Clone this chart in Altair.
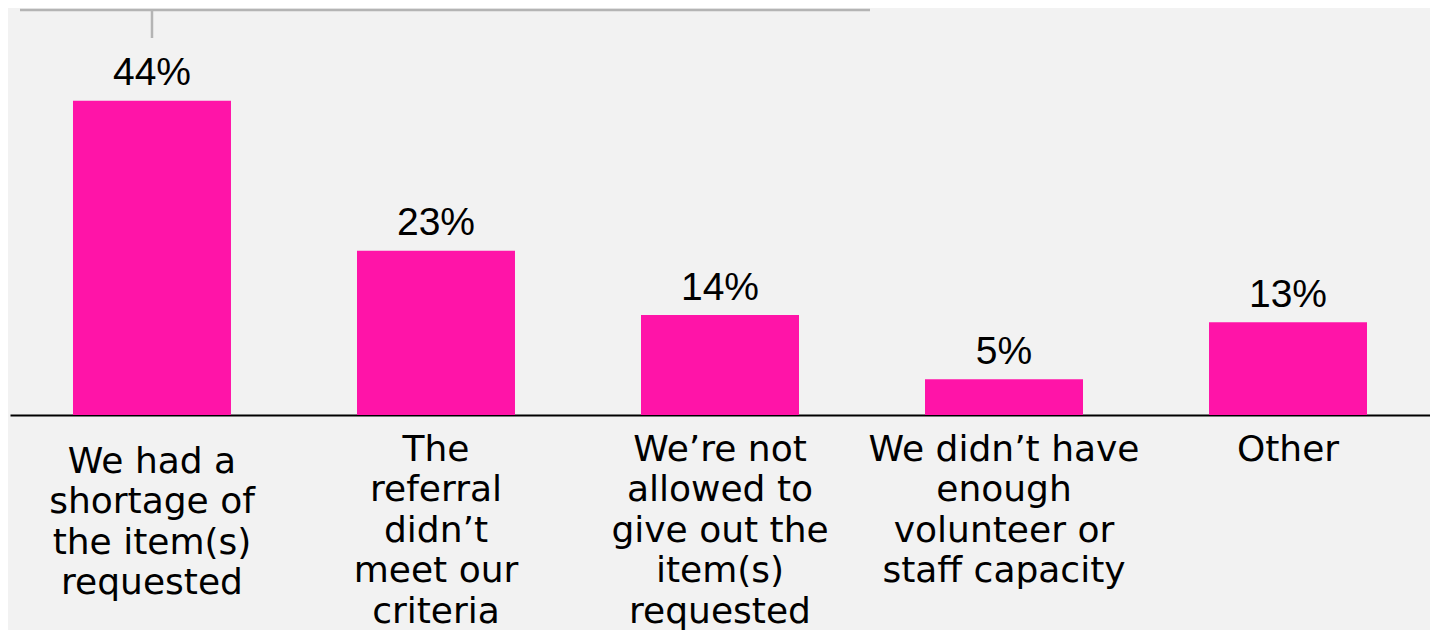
import altair as alt
import pandas as pd

categories = [
    "We had a|shortage of|the item(s)|requested",
    "The|referral|didn’t|meet our|criteria",
    "We’re not|allowed to|give out the|item(s)|requested",
    "We didn’t have|enough|volunteer or|staff capacity",
    "Other",
]
values = [44, 23, 14, 5, 13]

df = pd.DataFrame({"category": categories, "value": values})

BAR = "#FF14A8"
BG = "#F2F2F2"

x_enc = alt.X(
    "category:N",
    sort=categories,
    scale=alt.Scale(paddingInner=0.4437, paddingOuter=0.2218),
    axis=alt.Axis(
        title=None,
        ticks=False,
        domainColor="#000000",
        domainWidth=2,
        labelAngle=0,
        labelExpr="split(datum.label, '|')",
        labelFont="DejaVu Sans",
        labelFontSize=36,
        labelColor="#000000",
        labelLineHeight=40.5,
        labelBaseline="alphabetic",
        labelPadding={
            "condition": {"test": "indexof(datum.value, 'shortage') >= 0", "value": 57},
            "value": 45,
        },
        labelLimit=400,
    ),
)

y_enc = alt.Y(
    "value:Q",
    scale=alt.Scale(domain=[0, 57], nice=False, zero=True),
    axis=None,
)

base = alt.Chart(df)

bars = base.mark_bar(color=BAR).encode(x=x_enc, y=y_enc)

labels = base.transform_calculate(
    lbl="datum.value + '%'"
).mark_text(
    font="Liberation Sans",
    fontSize=39,
    color="#000000",
    baseline="alphabetic",
    dy=-15.5,
).encode(x=alt.X("category:N", sort=categories), y=y_enc, text="lbl:N")

top_line = alt.Chart(df).transform_filter(
    alt.datum.value == values[0]
).mark_rule(color="#B4B4B4", strokeWidth=2.5).encode(
    x=alt.value(10), x2=alt.value(860), y=alt.value(2)
)

top_tick = base.transform_filter(
    alt.datum.value == values[0]
).mark_rule(color="#B4B4B4", strokeWidth=2.5).encode(
    x=alt.X("category:N", sort=categories), y=alt.value(2), y2=alt.value(30)
)

chart = (
    alt.layer(bars, labels, top_line, top_tick)
    .properties(
        width=1420,
        height=407,
        background=BG,
        padding={"left": 2, "top": 0, "right": 0, "bottom": 215},
        autosize=alt.AutoSizeParams(type="none"),
    )
    .configure_view(stroke=None)
)

chart.save("out.html", embed_options={"renderer": "svg", "actions": False})
